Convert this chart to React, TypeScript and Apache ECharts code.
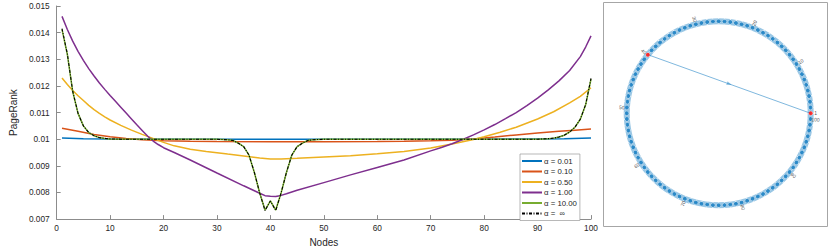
import React, { useEffect, useRef } from "react";
import * as echarts from "echarts";

// ---------- Left chart data ----------
const seriesNames = ["\u03B1 = 0.01", "\u03B1 = 0.10", "\u03B1 = 0.50", "\u03B1 = 1.00", "\u03B1 = 10.00", "\u03B1 =  \u221E"];

const nodesA001 = [1, 5, 10, 20, 30, 40, 50, 60, 70, 80, 90, 95, 100];
const valsA001 = [0.01004, 0.01002, 0.01001, 0.01, 0.009997, 0.009994, 0.009996, 0.009998, 0.01, 0.01, 0.01001, 0.01002, 0.01004];

const nodesA010 = [1, 4, 7, 10, 13, 16, 20, 25, 30, 40, 50, 60, 65, 70, 74, 78, 82, 86, 90, 94, 97, 100];
const valsA010 = [0.01041, 0.0103, 0.01018, 0.01009, 0.01003, 0.00998, 0.00994, 0.00992, 0.00991, 0.0099, 0.0099, 0.00991, 0.00992, 0.00994, 0.00996, 0.01001, 0.01008, 0.01016, 0.01023, 0.0103, 0.01034, 0.01038];

const nodesA050 = [1, 2, 3, 4, 5, 6, 7, 8, 9, 10, 12, 14, 16, 18, 20, 22, 25, 28, 32, 35, 38, 40, 42, 45, 50, 55, 60, 65, 70, 74, 78, 80, 83, 86, 90, 93, 96, 98, 100];
const valsA050 = [0.0123, 0.01205, 0.01183, 0.01163, 0.01145, 0.01127, 0.01111, 0.01097, 0.01084, 0.01072, 0.01052, 0.01034, 0.01018, 0.01003, 0.00988, 0.00975, 0.00962, 0.00954, 0.00944, 0.00937, 0.00929, 0.00926, 0.00926, 0.00928, 0.00933, 0.00938, 0.00945, 0.00954, 0.00967, 0.00982, 0.00999, 0.01009, 0.01026, 0.01045, 0.01076, 0.01103, 0.01136, 0.01161, 0.01193];

const nodesA100 = [1, 2, 3, 4, 5, 6, 7, 8, 9, 10, 11, 12, 13, 14, 15, 16, 17, 18, 19, 20, 22, 25, 30, 35, 38, 39, 40, 41, 42, 43, 45, 50, 55, 60, 65, 70, 72, 74, 76, 78, 80, 82, 84, 86, 88, 90, 92, 94, 96, 98, 99, 100];
const valsA100 = [0.01461, 0.01412, 0.01368, 0.0133, 0.01296, 0.01265, 0.01237, 0.01211, 0.01187, 0.01164, 0.01142, 0.0112, 0.01098, 0.01076, 0.01054, 0.01033, 0.01012, 0.00994, 0.0098, 0.00968, 0.0095, 0.00922, 0.00873, 0.00825, 0.00797, 0.00788, 0.00786, 0.00785, 0.00789, 0.00795, 0.00808, 0.00837, 0.00866, 0.00894, 0.00922, 0.00956, 0.00969, 0.00983, 0.00999, 0.01016, 0.01035, 0.01055, 0.01077, 0.011, 0.01126, 0.01154, 0.01185, 0.01219, 0.01258, 0.0131, 0.01346, 0.01388];

const nodesA10 = [1, 2, 3, 4, 5, 6, 7, 8, 9, 10, 12, 15, 20, 25, 30, 32, 33, 34, 35, 36, 37, 38, 39, 40, 41, 42, 43, 44, 45, 46, 47, 48, 50, 60, 70, 80, 88, 90, 91, 92, 93, 94, 95, 96, 97, 98, 99, 100];
const valsA10 = [0.01412, 0.01318, 0.01179, 0.01097, 0.0105, 0.01025, 0.01013, 0.01006, 0.01003, 0.01001, 0.01, 0.01, 0.01, 0.01, 0.009995, 0.00998, 0.00995, 0.00985, 0.00972, 0.0094, 0.00875, 0.00798, 0.00734, 0.00768, 0.00734, 0.00798, 0.00875, 0.0094, 0.00972, 0.00985, 0.00995, 0.00998, 0.009995, 0.01, 0.01, 0.01, 0.01, 0.01, 0.01001, 0.01002, 0.01004, 0.01008, 0.01015, 0.01027, 0.01045, 0.01075, 0.01129, 0.01226];

const nodesInf = [1, 2, 3, 4, 5, 6, 7, 8, 9, 10, 12, 15, 20, 25, 30, 32, 33, 34, 35, 36, 37, 38, 39, 40, 41, 42, 43, 44, 45, 46, 47, 48, 50, 60, 70, 80, 88, 90, 91, 92, 93, 94, 95, 96, 97, 98, 99, 100];
const valsInf = [0.01415, 0.0132, 0.0118, 0.01097, 0.0105, 0.01025, 0.01013, 0.01006, 0.01003, 0.01001, 0.01, 0.01, 0.01, 0.01, 0.009995, 0.00998, 0.00995, 0.00985, 0.00972, 0.0094, 0.00875, 0.00798, 0.00732, 0.00768, 0.00732, 0.00798, 0.00875, 0.0094, 0.00972, 0.00985, 0.00995, 0.00998, 0.009995, 0.01, 0.01, 0.01, 0.01, 0.01, 0.01001, 0.01002, 0.01004, 0.01008, 0.01015, 0.01027, 0.01045, 0.01075, 0.0113, 0.01228];

// ---------- Right graph data ----------
const nodeCount = 100;
const highlightedNodes = [1, 40];
const labeledNodes = [1, 10, 20, 30, 40, 50, 60, 70, 80, 90, 100];
const extraEdge = [40, 1];

const pairs = (xs: number[], ys: number[]) => xs.map((x, i) => [x, ys[i]]);

export default function App() {
  const ref = useRef<HTMLDivElement>(null);
  useEffect(() => {
    document.body.style.margin = "0";
    if (!ref.current) return;
    const chart = echarts.init(ref.current, undefined, { renderer: "svg" });
    const colors = ["#0072BD", "#D95319", "#EDB120", "#7E2F8E", "#77AC30", "#000000"];
    const font = "Liberation Sans, Arial, Helvetica, sans-serif";
    const axisGray = "#8c8c8c";
    const txt = "#262626";

    const step = 360 / nodeCount;
    const angleOf = (n: number) => (n - 1) * step;
    const ringNodes = Array.from({ length: nodeCount }, (_, i) => i + 1);
    const edgeBlue = "rgba(0,114,189,0.5)";

    const [a, b] = extraEdge;
    const ax = Math.cos((angleOf(a) * Math.PI) / 180), ay = Math.sin((angleOf(a) * Math.PI) / 180);
    const bx = Math.cos((angleOf(b) * Math.PI) / 180), by = Math.sin((angleOf(b) * Math.PI) / 180);
    const mx = (ax + bx) / 2, my = (ay + by) / 2;
    const midR = Math.hypot(mx, my);
    const midA = (Math.atan2(my, mx) * 180) / Math.PI;
    const dirA = (Math.atan2(by - ay, bx - ax) * 180) / Math.PI;

    const norm = (t: number) => {
      let r = t % 360;
      if (r > 180) r -= 360;
      if (r > 90) r -= 180;
      if (r < -90) r += 180;
      return r;
    };

    const lineData = [
      pairs(nodesA001, valsA001),
      pairs(nodesA010, valsA010),
      pairs(nodesA050, valsA050),
      pairs(nodesA100, valsA100),
      pairs(nodesA10, valsA10),
      pairs(nodesInf, valsInf),
    ];

    const lineSeries = lineData.map((d, i) => ({
      name: seriesNames[i],
      type: "line",
      xAxisIndex: 0,
      yAxisIndex: 0,
      data: d,
      symbol: "none",
      showSymbol: false,
      z: 2 + i,
      lineStyle: {
        color: colors[i],
        width: i === 5 ? 1.1 : 1.5,
        type: i === 5 ? [3, 1.5, 1, 1.5] : "solid",
      },
      itemStyle: { color: colors[i] },
    }));

    chart.setOption({
      animation: false,
      textStyle: { fontFamily: font },
      grid: [{ left: 43, right: 239, top: 6, bottom: 27 }],
      legend: {
        data: seriesNames,
        orient: "vertical",
        left: 520,
        top: 154,
        itemWidth: 20,
        itemHeight: 10,
        itemGap: 0.5,
        padding: [2, 3, 2, 1],
        borderColor: "#9a9a9a",
        borderWidth: 0.7,
        borderRadius: 0,
        backgroundColor: "#ffffff",
        itemStyle: { opacity: 0 },
        textStyle: { fontSize: 7.8, color: txt, fontFamily: font, lineHeight: 10, padding: [0, 0, 0, -3] },
      },
      xAxis: [
        {
          type: "value",
          min: 0,
          max: 100,
          interval: 10,
          name: "Nodes",
          nameLocation: "middle",
          nameGap: 16,
          nameTextStyle: { fontSize: 10, color: txt },
          axisLine: { show: true, onZero: false, lineStyle: { color: axisGray, width: 1 } },
          axisTick: { show: true, inside: true, length: 4, lineStyle: { color: axisGray } },
          axisLabel: { fontSize: 8.3, color: txt, margin: 5, formatter: (v: number) => String(v) },
          splitLine: { show: false },
        },
      ],
      yAxis: [
        {
          type: "value",
          min: 0.007,
          max: 0.015,
          interval: 0.001,
          name: "PageRank",
          nameLocation: "middle",
          nameGap: 29,
          nameTextStyle: { fontSize: 10, color: txt },
          axisLine: { show: true, onZero: false, lineStyle: { color: axisGray, width: 1 } },
          axisTick: { show: true, inside: true, length: 4, lineStyle: { color: axisGray } },
          axisLabel: {
            fontSize: 8.3,
            color: txt,
            margin: 7,
            formatter: (v: number) => String(parseFloat(v.toFixed(3))),
          },
          splitLine: { show: false },
        },
      ],
      polar: { center: [718.7, 113.3], radius: 92 * 1.2 },
      angleAxis: {
        type: "value",
        min: 0,
        max: 360,
        startAngle: 0,
        clockwise: false,
        show: false,
        axisLine: { show: false },
        axisTick: { show: false },
        axisLabel: { show: false },
        splitLine: { show: false },
      },
      radiusAxis: {
        type: "value",
        min: 0,
        max: 1.2,
        show: false,
        axisLine: { show: false },
        axisTick: { show: false },
        axisLabel: { show: false },
        splitLine: { show: false },
      },
      graphic: [
        {
          type: "rect",
          shape: { x: 603.5, y: 2.5, width: 224, height: 224 },
          style: { fill: "none", stroke: "#a6a6a6", lineWidth: 1 },
          silent: true,
        },
      ],
      series: [
        ...lineSeries,
        {
          type: "line",
          coordinateSystem: "polar",
          data: [...ringNodes, ringNodes[0]].map((n) => [1, angleOf(n)]),
          symbol: "none",
          lineStyle: { color: edgeBlue, width: 0.6 },
          z: 1,
          silent: true,
        },
        {
          type: "scatter",
          coordinateSystem: "polar",
          data: ringNodes.map((n) => ({
            value: [Math.cos(((step / 2) * Math.PI) / 180), angleOf(n) + step / 2],
            symbolRotate: angleOf(n) + step / 2,
          })),
          symbol: "path://M0,0 L10,5 L0,10 Z M20,0 L10,5 L20,10 Z",
          symbolSize: [6, 6],
          itemStyle: { color: edgeBlue },
          z: 2,
          silent: true,
        },
        {
          type: "line",
          coordinateSystem: "polar",
          data: extraEdge.map((n) => [1, angleOf(n)]),
          symbol: "none",
          lineStyle: { color: edgeBlue, width: 1 },
          z: 3,
          silent: true,
        },
        {
          type: "scatter",
          coordinateSystem: "polar",
          data: [{ value: [midR, midA], symbolRotate: dirA - 90 }],
          symbol: "triangle",
          symbolSize: [4, 5],
          itemStyle: { color: edgeBlue },
          z: 3,
          silent: true,
        },
        {
          type: "scatter",
          coordinateSystem: "polar",
          data: ringNodes.map((n) => ({
            value: [1, angleOf(n)],
            itemStyle: { color: highlightedNodes.includes(n) ? "#FF0000" : "#0072BD" },
          })),
          symbol: "circle",
          symbolSize: 4,
          z: 4,
          silent: true,
        },
        {
          type: "scatter",
          coordinateSystem: "polar",
          data: labeledNodes.map((n) => ({
            value: [1.055, angleOf(n)],
            label: { rotate: norm(angleOf(n)) },
          })),
          symbolSize: 0,
          itemStyle: { color: "transparent" },
          label: {
            show: true,
            position: "inside",
            fontSize: 5,
            color: txt,
            formatter: (p: any) => String(labeledNodes[p.dataIndex]),
          },
          z: 5,
          silent: true,
        },
      ],
    });
    return () => chart.dispose();
  }, []);
  return <div ref={ref} style={{ width: 830, height: 252 }} />;
}
